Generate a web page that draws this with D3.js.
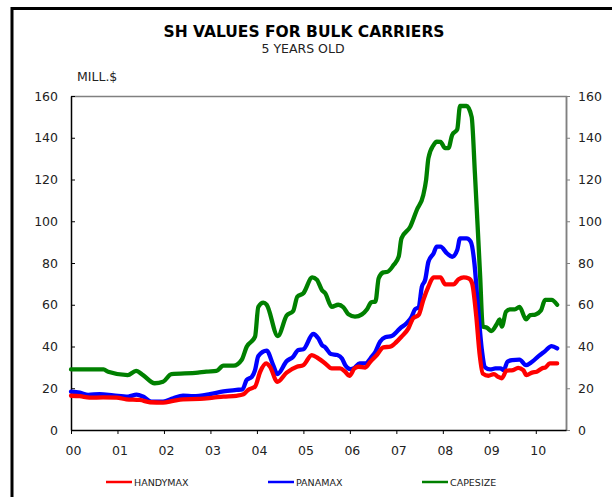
<!DOCTYPE html>
<html>
<head>
<meta charset="utf-8">
<script src="https://cdn.jsdelivr.net/npm/d3@7"></script>
<style>
    body { margin: 0; background: #fff; }
    svg text { font-family: "DejaVu Sans", Verdana, sans-serif; fill: #222; }
</style>
</head>
<body>
<div id="chart"></div>
<script>
// year ticks on the x axis
var years = [2000, 2001, 2002, 2003, 2004, 2005, 2006, 2007, 2008, 2009, 2010];
var yTicks = [0, 20, 40, 60, 80, 100, 120, 140, 160];

// [decimal year, mill. $]
var handymax = [
    [2000.00, 16.4], [2000.19, 16.2], [2000.40, 15.5], [2000.69, 15.6], [2000.98, 15.5],
    [2001.19, 14.7], [2001.48, 14.4], [2001.70, 13.3], [2001.98, 13.1], [2002.20, 14.0],
    [2002.41, 14.7], [2002.77, 14.9], [2003.06, 15.5], [2003.28, 16.0], [2003.56, 16.4],
    [2003.71, 17.1], [2003.81, 19.2], [2003.96, 20.8], [2004.07, 27.9], [2004.20, 31.9],
    [2004.28, 30.3], [2004.44, 23.1], [2004.64, 27.5], [2004.86, 30.3], [2005.00, 31.1],
    [2005.18, 35.9], [2005.32, 34.3], [2005.47, 31.9], [2005.61, 29.5], [2005.79, 29.5],
    [2005.90, 27.9], [2005.99, 25.9], [2006.10, 29.5], [2006.19, 30.3], [2006.33, 29.9],
    [2006.44, 32.7], [2006.58, 35.9], [2006.72, 39.6], [2006.87, 39.9], [2006.97, 41.5],
    [2007.11, 44.7], [2007.26, 48.7], [2007.36, 53.5], [2007.48, 55.1], [2007.58, 62.3],
    [2007.69, 68.7], [2007.80, 73.1], [2007.95, 73.1], [2008.05, 69.8], [2008.23, 69.8],
    [2008.34, 72.2], [2008.45, 73.1], [2008.56, 72.6], [2008.63, 70.3], [2008.72, 54.3],
    [2008.79, 36.7], [2008.86, 27.0], [2008.98, 26.0], [2009.10, 26.8], [2009.19, 25.5],
    [2009.27, 24.8], [2009.37, 28.4], [2009.51, 28.7], [2009.62, 29.8], [2009.73, 28.7],
    [2009.80, 26.3], [2009.92, 27.5], [2010.02, 27.9], [2010.13, 29.5], [2010.21, 30.0],
    [2010.30, 31.9], [2010.46, 31.9]
];

var panamax = [
    [2000.00, 18.4], [2000.19, 17.9], [2000.37, 16.8], [2000.62, 17.2], [2000.91, 16.6],
    [2001.23, 16.0], [2001.41, 16.9], [2001.55, 16.0], [2001.73, 13.6], [2001.98, 13.6],
    [2002.20, 15.2], [2002.41, 16.4], [2002.63, 16.2], [2002.99, 17.2], [2003.28, 18.5],
    [2003.56, 19.2], [2003.69, 19.5], [2003.78, 24.0], [2003.89, 25.5], [2003.96, 28.7],
    [2004.03, 35.4], [2004.21, 38.0], [2004.35, 31.1], [2004.44, 26.8], [2004.64, 33.0],
    [2004.78, 35.1], [2004.89, 38.3], [2005.00, 38.7], [2005.21, 46.0], [2005.32, 43.9],
    [2005.40, 40.7], [2005.47, 39.6], [2005.59, 36.4], [2005.73, 35.9], [2005.83, 34.3],
    [2005.90, 31.1], [2006.01, 29.2], [2006.10, 29.8], [2006.21, 31.9], [2006.33, 31.9],
    [2006.47, 35.1], [2006.55, 37.5], [2006.65, 42.3], [2006.76, 44.4], [2006.90, 45.0],
    [2007.01, 47.1], [2007.08, 48.7], [2007.22, 51.1], [2007.33, 54.3], [2007.40, 57.8],
    [2007.48, 58.8], [2007.55, 68.7], [2007.62, 71.9], [2007.69, 80.6], [2007.80, 84.6],
    [2007.87, 87.8], [2007.95, 87.8], [2008.09, 84.6], [2008.20, 83.0], [2008.31, 86.2],
    [2008.37, 91.8], [2008.51, 91.8], [2008.60, 90.2], [2008.68, 79.8], [2008.75, 60.7],
    [2008.84, 38.3], [2008.91, 30.0], [2009.02, 29.0], [2009.13, 29.5], [2009.24, 29.5],
    [2009.31, 28.7], [2009.39, 32.7], [2009.49, 33.5], [2009.65, 33.7], [2009.79, 31.1],
    [2009.92, 32.7], [2010.06, 35.4], [2010.20, 37.8], [2010.34, 40.2], [2010.46, 39.1]
];

var capesize = [
    [2000.00, 29.0], [2000.70, 29.0], [2000.80, 27.9], [2001.22, 26.3], [2001.40, 28.3],
    [2001.55, 26.3], [2001.80, 22.4], [2001.98, 23.1], [2002.16, 26.8], [2002.73, 27.5],
    [2002.91, 28.0], [2003.13, 28.3], [2003.28, 30.8], [2003.50, 30.8], [2003.67, 33.5],
    [2003.78, 39.9], [2003.96, 44.7], [2004.03, 59.0], [2004.14, 61.0], [2004.21, 60.0],
    [2004.45, 45.0], [2004.64, 54.8], [2004.78, 57.0], [2004.87, 63.9], [2005.00, 65.5],
    [2005.19, 73.1], [2005.29, 72.0], [2005.40, 67.0], [2005.47, 65.5], [2005.61, 59.0],
    [2005.75, 60.0], [2005.86, 58.8], [2005.97, 55.4], [2006.11, 54.3], [2006.26, 55.4],
    [2006.37, 57.8], [2006.46, 61.2], [2006.55, 61.5], [2006.62, 72.7], [2006.72, 75.5],
    [2006.81, 75.8], [2006.94, 79.0], [2007.05, 83.0], [2007.11, 91.8], [2007.30, 97.4],
    [2007.44, 105.4], [2007.58, 112.6], [2007.64, 119.8], [2007.69, 130.2], [2007.80, 136.5],
    [2007.87, 138.1], [2007.95, 138.0], [2008.05, 135.0], [2008.12, 135.0], [2008.20, 141.3],
    [2008.31, 144.0], [2008.37, 155.2], [2008.51, 155.2], [2008.62, 150.0], [2008.69, 123.0],
    [2008.80, 75.0], [2008.86, 49.5], [2008.95, 49.0], [2009.04, 47.4], [2009.17, 51.1],
    [2009.22, 53.0], [2009.27, 49.5], [2009.36, 56.7], [2009.45, 57.8], [2009.55, 57.8],
    [2009.65, 59.0], [2009.79, 53.0], [2009.88, 55.0], [2009.99, 55.3], [2010.11, 57.2],
    [2010.20, 62.3], [2010.34, 62.3], [2010.46, 60.0]
];

var seriesNames = ["HANDYMAX", "PANAMAX", "CAPESIZE"];
var seriesColors = ["#ff0000", "#0000ff", "#008000"];

var W = 612, H = 497;
var plot = { left: 71, right: 566, top: 96, bottom: 430 };

var svg = d3.select("#chart").append("svg")
    .attr("width", W)
    .attr("height", H);

// outer frame, runs off the right and bottom edges
svg.append("rect")
    .attr("x", 12).attr("y", 8.5)
    .attr("width", W + 20).attr("height", H + 20)
    .attr("fill", "none")
    .attr("stroke", "#000")
    .attr("stroke-width", 3);

var xScale = d3.scaleLinear()
    .domain([2000, 2010.65])
    .range([plot.left, plot.right]);

var yScale = d3.scaleLinear()
    .domain([0, 160])
    .range([plot.bottom, plot.top]);

// titles
svg.append("text")
    .attr("x", 304).attr("y", 37)
    .attr("text-anchor", "middle")
    .style("font-size", "15.5px")
    .style("font-weight", "bold")
    .style("fill", "#000")
    .text("SH VALUES FOR BULK CARRIERS");

svg.append("text")
    .attr("x", 303).attr("y", 53)
    .attr("text-anchor", "middle")
    .style("font-size", "12.5px")
    .text("5 YEARS OLD");

svg.append("text")
    .attr("x", 77).attr("y", 81)
    .style("font-size", "12.5px")
    .text("MILL.$");

// plot frame: top and right in grey
svg.append("path")
    .attr("d", "M" + plot.left + "," + (plot.top + 0.5) + "H" + (plot.right + 0.5) + "V" + plot.bottom)
    .attr("fill", "none")
    .attr("stroke", "#808080")
    .attr("stroke-width", 1.5);

// left axis, ticks pointing in
var yAxisLeft = d3.axisLeft(yScale).tickValues(yTicks).tickSizeInner(-4).tickSizeOuter(0).tickPadding(13);
var gl = svg.append("g")
    .attr("transform", "translate(" + plot.left + ",0)")
    .call(yAxisLeft);
gl.select(".domain").attr("stroke", "#000").attr("stroke-width", 1.5);
gl.selectAll("text").style("font-size", "12.5px").attr("fill", "#222");

// right axis, grey, ticks pointing out
var yAxisRight = d3.axisRight(yScale).tickValues(yTicks).tickSizeInner(4).tickSizeOuter(0).tickPadding(8);
var gr = svg.append("g")
    .attr("transform", "translate(" + plot.right + ",0)")
    .call(yAxisRight);
gr.select(".domain").attr("stroke", "#808080").attr("stroke-width", 1.5);
gr.selectAll("line").attr("stroke", "#808080");
gr.selectAll("text").style("font-size", "12.5px").attr("fill", "#222");

// x axis
var xAxis = d3.axisBottom(xScale)
    .tickValues(years)
    .tickSizeInner(4).tickSizeOuter(0).tickPadding(12)
    .tickFormat(function(d) { return d3.format("02d")(d - 2000); });
var gx = svg.append("g")
    .attr("transform", "translate(0," + plot.bottom + ")")
    .call(xAxis);
gx.select(".domain").attr("stroke", "#000").attr("stroke-width", 1.5);
gx.selectAll("text").style("font-size", "12.5px").attr("fill", "#222").attr("dx", "2");

// lines
var line = d3.line()
    .x(function(d) { return xScale(d[0]); })
    .y(function(d) { return yScale(d[1]); })
    .curve(d3.curveMonotoneX);

var allSeries = [capesize, panamax, handymax];
var allColors = [seriesColors[2], seriesColors[1], seriesColors[0]];
allSeries.forEach(function(s, i) {
    svg.append("path")
        .datum(s)
        .attr("d", line)
        .attr("fill", "none")
        .attr("stroke", allColors[i])
        .attr("stroke-width", 4.3)
        .attr("stroke-linejoin", "round")
        .attr("stroke-linecap", "round");
});

// legend
var legendX = [106, 268, 422];
var legend = svg.append("g").attr("class", "legend");
seriesNames.forEach(function(name, i) {
    legend.append("line")
        .attr("x1", legendX[i]).attr("x2", legendX[i] + 26)
        .attr("y1", 482).attr("y2", 482)
        .attr("stroke", seriesColors[i])
        .attr("stroke-width", 2.5);
    legend.append("text")
        .attr("x", legendX[i] + 28).attr("y", 485.5)
        .style("font-size", "9.5px")
        .text(name);
});
</script>
</body>
</html>
